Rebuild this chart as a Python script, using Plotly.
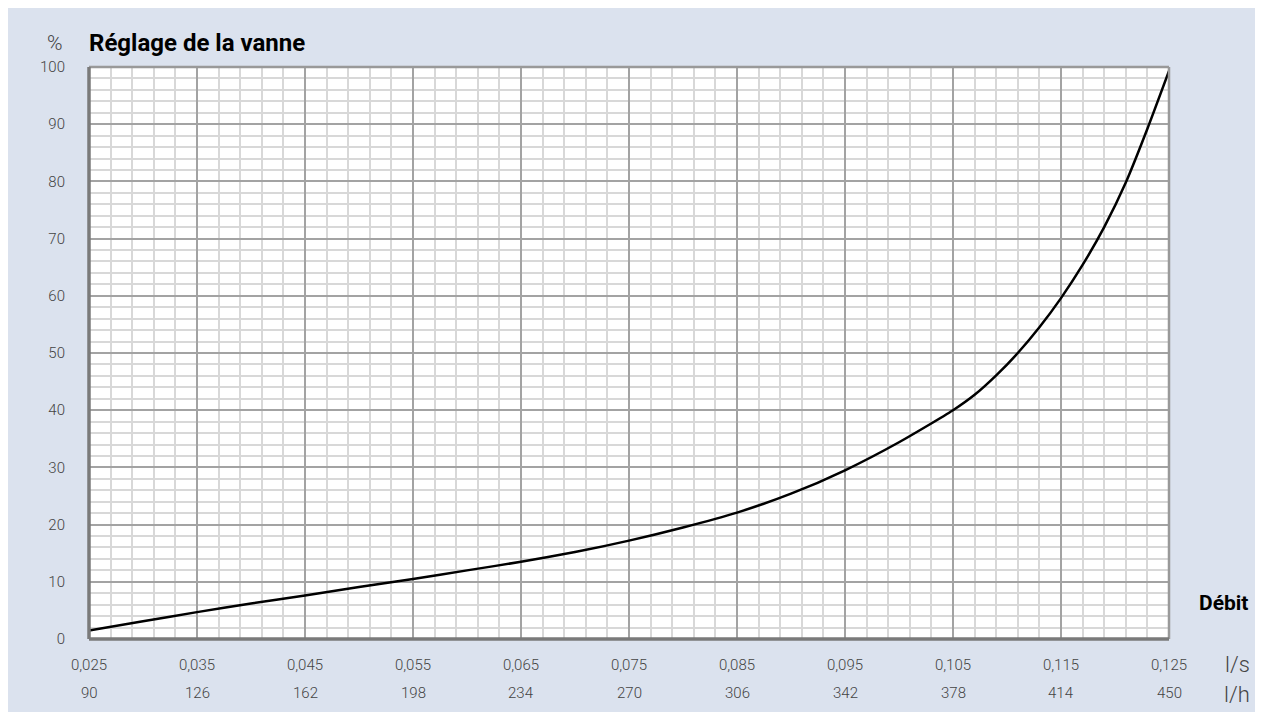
import plotly.graph_objects as go

# Data
flow_ls = [0.025, 0.030, 0.035, 0.040, 0.045, 0.050, 0.055, 0.060, 0.065, 0.070,
           0.075, 0.080, 0.085, 0.090, 0.095, 0.100, 0.105, 0.107, 0.109, 0.111,
           0.113, 0.115, 0.117, 0.119, 0.121, 0.123, 0.125]
setting_pct = [1.5, 3.1, 4.7, 6.2, 7.6, 9.1, 10.5, 12.0, 13.5, 15.2,
               17.2, 19.5, 22.1, 25.4, 29.5, 34.4, 40.0, 42.7, 46.1, 50.0,
               54.5, 59.6, 65.4, 72.0, 79.8, 89.2, 99.3]

tick_ls = [0.025, 0.035, 0.045, 0.055, 0.065, 0.075, 0.085, 0.095, 0.105, 0.115, 0.125]
tick_ls_text = ["0,025", "0,035", "0,045", "0,055", "0,065", "0,075", "0,085", "0,095",
                "0,105", "0,115", "0,125"]
tick_lh_text = ["90", "126", "162", "198", "234", "270", "306", "342", "378", "414", "450"]
tick_pct = [0, 10, 20, 30, 40, 50, 60, 70, 80, 90, 100]

BG = "#dbe2ee"
FONT = "Roboto"
TXT = "#444444"
LIGHT = dict(family=FONT, color=TXT, size=15, weight=300)

fig = go.Figure()
fig.add_trace(go.Scatter(x=flow_ls, y=setting_pct, mode="lines",
                         line=dict(color="black", width=2.5, shape="spline", smoothing=0.6),
                         hoverinfo="skip", showlegend=False))

fig.update_layout(
    width=1247, height=704,
    margin=dict(l=81, r=86, t=59, b=73),
    paper_bgcolor=BG, plot_bgcolor="white",
    font=dict(family=FONT, color=TXT, size=15),
    showlegend=False,
)

fig.update_xaxes(
    range=[0.025, 0.125], tickvals=tick_ls, ticktext=tick_ls_text,
    showgrid=True, gridcolor="#a3a3a3", gridwidth=1.5,
    ticks="outside", ticklen=12, tickcolor="rgba(0,0,0,0)",
    tickfont=LIGHT,
    minor=dict(tick0=0.025, dtick=0.002, showgrid=True, gridcolor="#d8d8d8", gridwidth=2),
    zeroline=False, showline=False, fixedrange=True,
)
fig.update_yaxes(
    range=[0, 100], tickvals=tick_pct,
    showgrid=True, gridcolor="#a3a3a3", gridwidth=1.5,
    ticks="outside", ticklen=20, tickcolor="rgba(0,0,0,0)",
    tickfont=LIGHT,
    minor=dict(tick0=0, dtick=2, showgrid=True, gridcolor="#d8d8d8", gridwidth=2),
    zeroline=False, showline=False, fixedrange=True,
)

# frame
fig.add_shape(type="line", xref="paper", yref="paper", x0=0, x1=1, y0=1, y1=1,
              line=dict(color="#999999", width=2.5))
fig.add_shape(type="line", xref="paper", yref="paper", x0=1, x1=1, y0=0, y1=1,
              line=dict(color="#999999", width=2.5))
fig.add_shape(type="line", xref="paper", yref="paper", x0=0, x1=1, y0=0, y1=0,
              line=dict(color="#7a7a7a", width=3.5))
fig.add_shape(type="line", xref="paper", yref="paper", x0=0, x1=0, y0=0, y1=1,
              line=dict(color="#7a7a7a", width=3.5))

# l/h second row of labels
for xv, t in zip(tick_ls, tick_lh_text):
    fig.add_annotation(x=xv, y=0, xref="x", yref="paper", text=t, showarrow=False,
                       yshift=-54, yanchor="middle", xanchor="center", font=LIGHT)

fig.add_annotation(x=0, y=1, xref="paper", yref="paper", text="<b>Réglage de la vanne</b>",
                   showarrow=False, xanchor="left", yanchor="middle", xshift=-2, yshift=24,
                   font=dict(size=24, color="black", family=FONT))
fig.add_annotation(x=0, y=1, xref="paper", yref="paper", text="%",
                   showarrow=False, xanchor="center", yanchor="middle", xshift=-34, yshift=24,
                   font=dict(size=21, color=TXT, family=FONT, weight=300))
fig.add_annotation(x=1, y=0, xref="paper", yref="paper", text="<b>Débit</b>",
                   showarrow=False, xanchor="center", yanchor="middle", xshift=54, yshift=36,
                   font=dict(size=21, color="black", family=FONT))
fig.add_annotation(x=1, y=0, xref="paper", yref="paper", text="l/s",
                   showarrow=False, xanchor="center", yanchor="middle", xshift=68, yshift=-25,
                   font=dict(size=22, color=TXT, family=FONT, weight=300))
fig.add_annotation(x=1, y=0, xref="paper", yref="paper", text="l/h",
                   showarrow=False, xanchor="center", yanchor="middle", xshift=68, yshift=-55,
                   font=dict(size=22, color=TXT, family=FONT, weight=300))

fig.write_html("out.html")
